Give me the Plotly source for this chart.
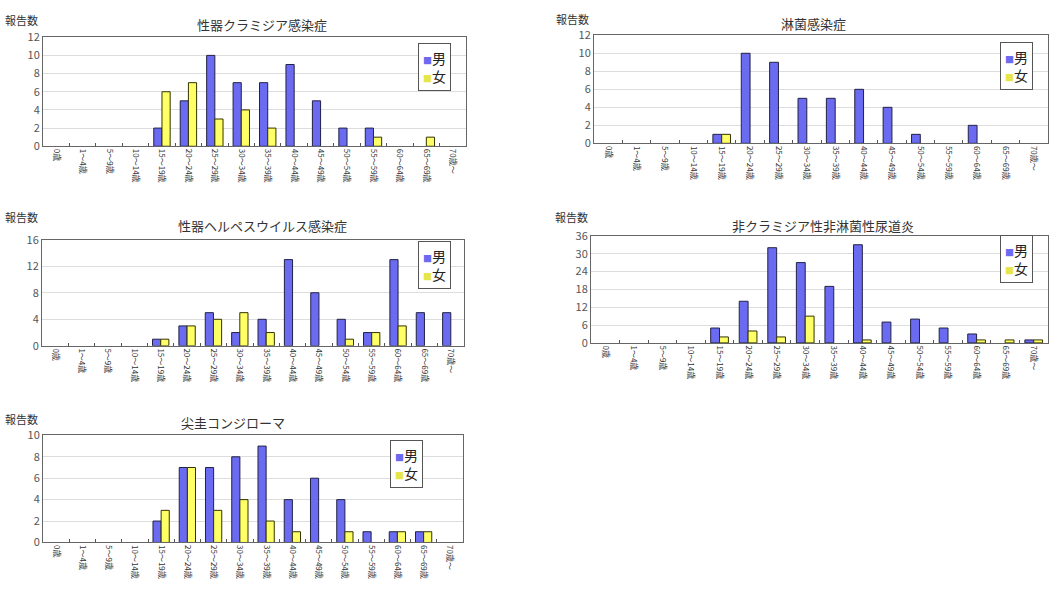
import plotly.graph_objects as go

W, H = 1054, 603

ages = ["0歳", "1～4歳", "5～9歳", "10～14歳", "15～19歳", "20～24歳", "25～29歳",
        "30～34歳", "35～39歳", "40～44歳", "45～49歳", "50～54歳", "55～59歳",
        "60～64歳", "65～69歳", "70歳～"]

chlamydia_m = [0, 0, 0, 0, 2, 5, 10, 7, 7, 9, 5, 2, 2, 0, 0, 0]
chlamydia_f = [0, 0, 0, 0, 6, 7, 3, 4, 2, 0, 0, 0, 1, 0, 1, 0]

gonorrhea_m = [0, 0, 0, 0, 1, 10, 9, 5, 5, 6, 4, 1, 0, 2, 0, 0]
gonorrhea_f = [0, 0, 0, 0, 1, 0, 0, 0, 0, 0, 0, 0, 0, 0, 0, 0]

herpes_m = [0, 0, 0, 0, 1, 3, 5, 2, 4, 13, 8, 4, 2, 13, 5, 5]
herpes_f = [0, 0, 0, 0, 1, 3, 4, 5, 2, 0, 0, 1, 2, 3, 0, 0]

ngu_m = [0, 0, 0, 0, 5, 14, 32, 27, 19, 33, 7, 8, 5, 3, 0, 1]
ngu_f = [0, 0, 0, 0, 2, 4, 2, 9, 0, 1, 0, 0, 0, 1, 1, 1]

condyloma_m = [0, 0, 0, 0, 2, 7, 7, 8, 9, 4, 6, 4, 1, 1, 1, 0]
condyloma_f = [0, 0, 0, 0, 3, 7, 3, 4, 2, 1, 0, 1, 0, 1, 1, 0]

titles = ["性器クラミジア感染症", "淋菌感染症", "性器ヘルペスウイルス感染症",
          "非クラミジア性非淋菌性尿道炎", "尖圭コンジローマ"]
series = [(chlamydia_m, chlamydia_f), (gonorrhea_m, gonorrhea_f),
          (herpes_m, herpes_f), (ngu_m, ngu_f), (condyloma_m, condyloma_f)]
yranges = [(12, 2), (12, 2), (16, 4), (36, 6), (10, 2)]

# pixel boxes: (left, right, top, bottom)
boxes = [(43, 466, 29, 141), (594, 1048, 27, 138), (42, 464, 237, 346),
         (591, 1048, 233, 343), (43, 463, 438, 548)]
title_pos = [(262, 16), (813, 15), (262, 222), (823, 222), (233, 425)]
ylab_pos = [(21, 11), (572, 10), (21, 214), (571, 214), (21, 421)]
legend_pos = [(418, 35), (1000, 34), (418, 238), (1000, 232), (390, 443)]

MALE = "#6b6bf2"
FEMALE = "#ffff66"
FONT = "Noto Sans CJK JP"


def nz(vals):
    # zero counts draw no bar
    return [v if v else None for v in vals]


fig = go.Figure()
annotations = []
for i, ((m, f), title, (ymax, dt), (l, r, t, b)) in enumerate(zip(series, titles, yranges, boxes)):
    n = "" if i == 0 else str(i + 1)
    fig.add_trace(go.Bar(x=ages, y=nz(m), name="男", showlegend=False,
                         marker=dict(color=MALE, line=dict(color="#222244", width=1)),
                         xaxis="x" + n, yaxis="y" + n))
    fig.add_trace(go.Bar(x=ages, y=nz(f), name="女", showlegend=False,
                         marker=dict(color=FEMALE, line=dict(color="#333300", width=1)),
                         xaxis="x" + n, yaxis="y" + n))
    fig.layout["xaxis" + n] = dict(
        domain=[l / W, r / W], anchor="y" + n, type="category",
        tickangle=90, tickfont=dict(size=8, color="#333"), ticks="inside", ticklen=3,
        tickson="boundaries", tickcolor="#555", showline=True, linecolor="#666", linewidth=1,
        mirror=True, showgrid=False,
    )
    fig.layout["yaxis" + n] = dict(
        domain=[1 - b / H, 1 - t / H], anchor="x" + n, range=[0, ymax], dtick=dt,
        tickfont=dict(size=11, color="#555"), showline=True, linecolor="#666", linewidth=1,
        mirror=True, showgrid=True, gridcolor="#dddddd", zeroline=False, ticks="",
    )
    lx, ly = legend_pos[i]
    legend_text = (f"<span style='color:{MALE};font-size:9px'>■</span>男<br>"
                   f"<span style='color:#e6e64a;font-size:9px'>■</span>女")
    annotations.append(dict(text=legend_text, x=lx / W, y=1 - ly / H, xref="paper", yref="paper",
                            showarrow=False, xanchor="left", yanchor="top", align="left",
                            bgcolor="white", bordercolor="#555", borderwidth=1, borderpad=4,
                            font=dict(size=14, color="#222", family=FONT)))
    tx, ty = title_pos[i]
    annotations.append(dict(text=title, x=tx / W, y=1 - ty / H, xref="paper", yref="paper",
                            showarrow=False, xanchor="center", yanchor="middle",
                            font=dict(size=13, color="#333", family=FONT)))
    yx, yy = ylab_pos[i]
    annotations.append(dict(text="報告数", x=yx / W, y=1 - yy / H, xref="paper", yref="paper",
                            showarrow=False, xanchor="center", yanchor="middle",
                            font=dict(size=11, color="#333", family=FONT)))

fig.update_layout(
    width=W, height=H, margin=dict(l=0, r=0, t=0, b=0),
    paper_bgcolor="white", plot_bgcolor="white",
    barmode="group", bargap=0.38, bargroupgap=0.0,
    font=dict(family=FONT, color="#333"),
    annotations=annotations, showlegend=False,
)

fig.write_html("out.html")
